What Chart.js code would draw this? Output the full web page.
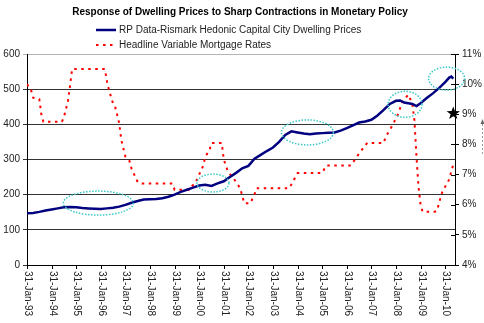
<!DOCTYPE html>
<html>
<head>
<meta charset="utf-8">
<script src="https://cdn.jsdelivr.net/npm/chart.js@4/dist/chart.umd.min.js"></script>
<style>
  body { margin: 0; background: #fff; }
  #c { display: block; }
</style>
</head>
<body>
<canvas id="c" width="484" height="323"></canvas>
<script>
// dwelling price index (left axis)
var priceMonths = ['1993-01','1993-04','1993-07','1993-10','1994-01','1994-04','1994-07','1994-10',
  '1995-01','1995-04','1995-07','1995-10','1996-01','1996-04','1996-07','1996-10',
  '1997-01','1997-04','1997-07','1997-10','1998-01','1998-04','1998-07','1998-10',
  '1999-01','1999-04','1999-07','1999-10','2000-01','2000-04','2000-07','2000-10',
  '2001-01','2001-04','2001-07','2001-10','2002-01','2002-04','2002-07','2002-10',
  '2003-01','2003-04','2003-07','2003-10','2004-01','2004-04','2004-07','2004-10',
  '2005-01','2005-04','2005-07','2005-10','2006-01','2006-04','2006-07','2006-10',
  '2007-01','2007-04','2007-07','2007-10','2008-01','2008-03','2008-05','2008-07',
  '2008-09','2008-11','2009-01','2009-04','2009-07','2009-10','2010-01','2010-03',
  '2010-04','2010-05'];
var priceValues = [147,148,151,155,158,161,164,165,
  164,162,161,160,159,161,163,166,
  171,177,182,186,187,188,190,194,
  200,208,214,220,226,228,225,232,
  238,250,262,275,282,302,313,324,
  334,350,370,380,377,374,372,374,
  375,376,377,382,389,397,405,408,
  413,425,441,458,467,468,462,460,
  458,452,460,475,488,503,520,533,
  536,530];

// headline variable mortgage rate (right axis, %)
var rateMonths = ['1993-01','1993-03','1993-04','1993-07','1993-08','1993-09','1994-06','1994-07',
  '1994-09','1994-10','1994-11','1996-03','1996-04','1996-05','1996-07','1996-08',
  '1996-10','1996-11','1997-01','1997-03','1997-04','1997-07','1997-09','1998-12',
  '1999-01','1999-08','1999-09','1999-11','2000-01','2000-03','2000-04','2000-06',
  '2000-07','2000-12','2001-01','2001-03','2001-06','2001-09','2001-11','2002-02',
  '2002-04','2002-05','2003-09','2003-11','2004-01','2005-01','2005-03','2006-03',
  '2006-05','2006-07','2006-11','2007-07','2007-08','2007-11','2008-02','2008-04',
  '2008-07','2008-09','2008-10','2008-11','2008-12','2009-01','2009-02','2009-08',
  '2009-09','2009-10','2009-11','2009-12','2010-02','2010-03','2010-04','2010-05'];
var rateValues = [10.0,9.8,9.55,9.5,9.0,8.75,8.75,8.9,
  9.45,9.95,10.5,10.5,10.1,9.8,9.35,9.25,
  8.7,8.15,7.6,7.45,7.2,6.75,6.7,6.7,
  6.5,6.5,6.6,6.7,7.0,7.3,7.6,7.8,
  8.05,8.05,7.5,7.1,6.85,6.55,6.05,6.05,
  6.35,6.55,6.55,6.8,7.05,7.05,7.3,7.3,
  7.5,7.7,8.05,8.05,8.25,8.6,9.0,9.4,
  9.65,9.35,8.8,7.6,6.6,6.0,5.77,5.77,
  5.8,6.05,6.3,6.5,6.7,6.85,7.1,7.35];

var yearTicks = ['31-Jan-93','31-Jan-94','31-Jan-95','31-Jan-96','31-Jan-97','31-Jan-98',
  '31-Jan-99','31-Jan-00','31-Jan-01','31-Jan-02','31-Jan-03','31-Jan-04','31-Jan-05',
  '31-Jan-06','31-Jan-07','31-Jan-08','31-Jan-09','31-Jan-10'];

var seriesNames = ['RP Data-Rismark Hedonic Capital City Dwelling Prices', 'Headline Variable Mortgage Rates'];
var chartTitle = 'Response of Dwelling Prices to Sharp Contractions in Monetary Policy';

function toYear(m) {
  var p = m.split('-');
  return +p[0] + (+p[1] - 1) / 12;
}

var FONT = '"Liberation Sans", Arial, sans-serif';
Chart.defaults.font.family = FONT;
Chart.defaults.font.size = 10;
Chart.defaults.color = '#222';

// dotted rings drawn on the chart (centre in data units, radii in px)
var rings = [
  { x: 1995.9, y: 176, rx: 35, ry: 12 },
  { x: 2000.56, y: 233, rx: 16, ry: 9 },
  { x: 2004.4, y: 377, rx: 26, ry: 12.5 },
  { x: 2008.37, y: 457, rx: 17, ry: 13 },
  { x: 2010.06, y: 530, rx: 18, ry: 11.5 }
];

var extras = {
  id: 'extras',
  afterDatasetsDraw: function(chart) {
    var c = chart.ctx, xs = chart.scales.x, ys = chart.scales.y;
    c.save();
    c.strokeStyle = '#3cc8c8';
    c.lineWidth = 1.5;
    c.setLineDash([1.5, 1.5]);
    rings.forEach(function(r) {
      c.beginPath();
      c.ellipse(xs.getPixelForValue(r.x), ys.getPixelForValue(r.y), r.rx, r.ry, 0, 0, Math.PI * 2);
      c.stroke();
    });
    c.restore();
  },
  afterDraw: function(chart) {
    var c = chart.ctx, xs = chart.scales.x, y1 = chart.scales.y1, a = chart.chartArea;
    c.save();
    // title
    c.fillStyle = '#000';
    c.font = 'bold 10px ' + FONT;
    c.textAlign = 'center';
    c.textBaseline = 'middle';
    c.fillText(chartTitle, 240, 12);

    // legend
    c.font = '10px ' + FONT;
    c.textAlign = 'left';
    chart.data.datasets.forEach(function(ds, i) {
      var ly = 30 + i * 15;
      c.strokeStyle = ds.borderColor;
      c.lineWidth = ds.borderWidth;
      c.setLineDash(ds.borderDash || []);
      c.beginPath();
      c.moveTo(96, ly);
      c.lineTo(116, ly);
      c.stroke();
      c.setLineDash([]);
      c.fillStyle = '#222';
      c.fillText(ds.label, 119, ly);
    });

    // x ticks + rotated labels
    c.strokeStyle = '#000';
    c.lineWidth = 1;
    yearTicks.forEach(function(t, i) {
      var px = Math.round(xs.getPixelForValue(1993 + i)) + 0.5;
      c.beginPath();
      c.moveTo(px, a.bottom);
      c.lineTo(px, a.bottom + 4);
      c.stroke();
      c.save();
      c.translate(px, a.bottom + 6);
      c.rotate(Math.PI / 2);
      c.fillStyle = '#222';
      c.textBaseline = 'middle';
      c.fillText(t, 0, 0);
      c.restore();
    });

    // inner tick marks on the right axis
    for (var v = 4; v <= 11; v++) {
      var py = Math.round(y1.getPixelForValue(v)) + 0.5;
      c.beginPath();
      c.moveTo(a.right - 4, py);
      c.lineTo(a.right, py);
      c.stroke();
    }

    // star marker at 9%
    var sx = xs.getPixelForValue(2010.33), sy = y1.getPixelForValue(9.03);
    c.fillStyle = '#000';
    c.beginPath();
    for (var k = 0; k < 10; k++) {
      var rr = k % 2 ? 2.8 : 7;
      var ang = -Math.PI / 2 + k * Math.PI / 5;
      c.lineTo(sx + rr * Math.cos(ang), sy + rr * Math.sin(ang));
    }
    c.closePath();
    c.fill();

    // clipped axis-title arrow at the far right
    c.strokeStyle = '#999';
    c.setLineDash([2, 2]);
    c.beginPath();
    c.moveTo(482.5, 124);
    c.lineTo(482.5, 156);
    c.stroke();
    c.setLineDash([]);
    c.fillStyle = '#666';
    c.beginPath();
    c.moveTo(482.5, 119);
    c.lineTo(480.5, 124);
    c.lineTo(484.5, 124);
    c.closePath();
    c.fill();
    c.restore();
  }
};

new Chart(document.getElementById('c'), {
  type: 'line',
  data: {
    datasets: [
      {
        label: seriesNames[0],
        data: priceMonths.map(function(m, i) { return { x: toYear(m), y: priceValues[i] }; }),
        borderColor: '#000080',
        borderWidth: 2.5,
        pointRadius: 0,
        tension: 0,
        yAxisID: 'y'
      },
      {
        label: seriesNames[1],
        data: rateMonths.map(function(m, i) { return { x: toYear(m), y: rateValues[i] }; }),
        borderColor: '#ff0000',
        borderWidth: 2,
        borderDash: [2.5, 4.5],
        pointRadius: 0,
        tension: 0,
        yAxisID: 'y1'
      }
    ]
  },
  options: {
    responsive: false,
    animation: false,
    layout: { padding: { top: 54, left: 0, right: 0, bottom: 0 } },
    plugins: {
      legend: { display: false },
      title: { display: false },
      tooltip: { enabled: false }
    },
    scales: {
      x: {
        type: 'linear',
        min: 1993,
        max: 2010.4,
        ticks: { display: false },
        grid: { display: false },
        border: { display: true, color: '#000' },
        afterFit: function(s) { s.height = 58; }
      },
      y: {
        position: 'left',
        min: 0,
        max: 600,
        ticks: { stepSize: 100, padding: 3, color: '#222' },
        grid: {
          color: function(ctx) { return ctx.tick && ctx.tick.value === 600 ? '#b4b4b4' : '#333'; },
          tickLength: 4
        },
        border: { color: '#000' },
        afterFit: function(s) { s.width = 27; }
      },
      y1: {
        position: 'right',
        min: 4,
        max: 11,
        ticks: { stepSize: 1, padding: 3, color: '#222', callback: function(v) { return v + '%'; } },
        grid: { drawOnChartArea: false, tickLength: 4, color: '#000' },
        border: { color: '#000' },
        afterFit: function(s) { s.width = 29; }
      }
    }
  },
  plugins: [extras]
});
</script>
</body>
</html>
